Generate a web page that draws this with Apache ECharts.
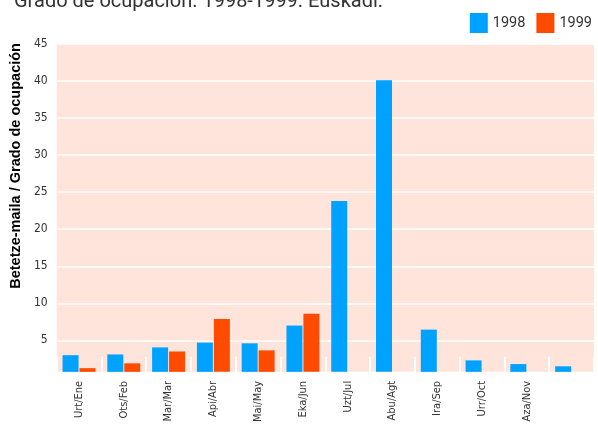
<!DOCTYPE html>
<html>
<head>
<meta charset="utf-8">
<script src="https://cdn.jsdelivr.net/npm/echarts@6/dist/echarts.min.js"></script>
<style>
    html, body { margin: 0; padding: 0; background: #fff; }
    #chart { width: 598px; height: 425px; }
</style>
</head>
<body>
<div id="chart"></div>
<script>
// hilabeteak / meses
var months = ['Urt/Ene', 'Ots/Feb', 'Mar/Mar', 'Api/Abr', 'Mai/May', 'Eka/Jun',
    'Uzt/Jul', 'Abu/Agt', 'Ira/Sep', 'Urr/Oct', 'Aza/Nov', ''];
var values1998 = [3.0, 3.1, 4.05, 4.7, 4.6, 7.0, 23.8, 40.1, 6.45, 2.3, 1.8, 1.5];
var values1999 = [1.25, 1.9, 3.5, 7.9, 3.65, 8.6, null, null, null, null, null, null];
var yTicks = [5, 10, 15, 20, 25, 30, 35, 40, 45];

var narrowFont = '"DejaVu Sans Condensed", "Liberation Sans", sans-serif';

var chart = echarts.init(document.getElementById('chart'));
var option = {
    animation: false,
    title: {
        text: 'Grado de ocupación. 1998-1999. Euskadi.',
        left: 9,
        top: -13,
        textStyle: {
            fontFamily: 'Roboto',
            fontSize: 20,
            fontWeight: 'normal',
            color: '#333'
        }
    },
    legend: {
        right: 1,
        top: 8,
        itemWidth: 18,
        itemHeight: 20,
        itemGap: 11,
        icon: 'rect',
        textStyle: {
            fontFamily: 'Roboto',
            fontSize: 14.5,
            color: '#333'
        },
        data: ['1998', '1999']
    },
    grid: {
        left: 56,
        right: 4,
        top: 44,
        bottom: 51,
        show: true,
        backgroundColor: '#FEE4DA',
        borderWidth: 0
    },
    xAxis: {
        type: 'category',
        data: months,
        axisLine: { show: false },
        axisTick: {
            show: true,
            inside: true,
            length: 15,
            lineStyle: { color: '#fff', width: 2 }
        },
        axisLabel: {
            rotate: 90,
            margin: 9,
            fontFamily: narrowFont,
            fontSize: 11,
            color: '#333'
        }
    },
    yAxis: {
        type: 'value',
        min: 0.75,
        max: 45,
        name: 'Betetze-maila / Grado de ocupación',
        nameLocation: 'middle',
        nameGap: 32,
        nameTextStyle: {
            fontFamily: 'Liberation Sans',
            fontSize: 14.5,
            fontWeight: 'bold',
            color: '#000',
            padding: [0, 0, 0, 84]
        },
        axisLine: { show: false },
        axisTick: { show: false, customValues: yTicks },
        axisLabel: {
            customValues: yTicks,
            margin: 9,
            fontFamily: narrowFont,
            fontSize: 12,
            color: '#333'
        },
        splitLine: {
            lineStyle: { color: '#fff', width: 1.5 }
        }
    },
    series: [
        {
            name: '1998',
            type: 'bar',
            data: values1998,
            barWidth: 16,
            barGap: '6%',
            itemStyle: { color: '#00A2FF' }
        },
        {
            name: '1999',
            type: 'bar',
            data: values1999,
            barWidth: 16,
            itemStyle: { color: '#FF4B00' }
        }
    ]
};
chart.setOption(option);
window.onresize = function () {
    chart.resize();
};
</script>
</body>
</html>
